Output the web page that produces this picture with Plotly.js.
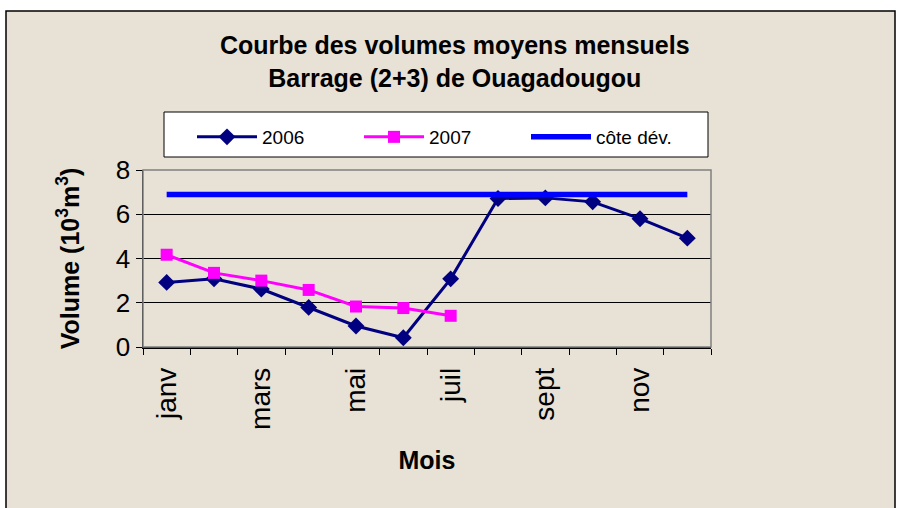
<!DOCTYPE html>
<html><head><meta charset="utf-8">
<script src="https://cdn.plot.ly/plotly-3.0.1.min.js"></script>
<style>html,body{margin:0;padding:0;background:#fff}#c{width:897px;height:508px}</style>
</head><body><div id="c"></div>
<script>
var months = ['janv','févr','mars','avr','mai','juin','juil','août','sept','oct','nov','déc'];
var labelMonths = ['janv','','mars','','mai','','juil','','sept','','nov',''];
var v2006 = [2.92, 3.08, 2.62, 1.79, 0.95, 0.42, 3.08, 6.71, 6.74, 6.56, 5.80, 4.92];
var v2007 = [4.17, 3.35, 3.00, 2.58, 1.83, 1.76, 1.41];
var coteDev = [6.89, 6.89, 6.89, 6.89, 6.89, 6.89, 6.89, 6.89, 6.89, 6.89, 6.89, 6.89];

var F = 'Liberation Sans, Arial, sans-serif';
var L = 143, R = 711, T = 170, B = 347;
function px(x){return (x-L)/(R-L);}
function py(y){return (B-y)/(B-T);}

var traces = [
 {x: months, y: v2006, name:'2006', type:'scatter', mode:'lines+markers',
  line:{color:'#000080', width:3}, marker:{symbol:'diamond', size:13, color:'#000080'}},
 {x: months.slice(0, v2007.length), y: v2007, name:'2007', type:'scatter', mode:'lines+markers',
  line:{color:'#FF00FF', width:3}, marker:{symbol:'square', size:12, color:'#FF00FF'}},
 {x: months, y: coteDev, name:'côte dév.', type:'scatter', mode:'lines',
  line:{color:'#0000FF', width:5.5}}
];

var layout = {
 width:897, height:508,
 margin:{l:L, r:897-R, t:T, b:508-B, pad:0},
 paper_bgcolor:'#ffffff', plot_bgcolor:'#FFFFCC',
 font:{family:F, color:'#000'},
 showlegend:true,
 title:{text:'<b>Courbe des volumes moyens mensuels<br>Barrage (2+3) de Ouagadougou</b>',
   x:0.507, xanchor:'center', yref:'container', y:1-54/508, yanchor:'top',
   font:{family:F, size:25, color:'#000'}},
 legend:{orientation:'h', x:px(192), xanchor:'left', y:py(118), yanchor:'top',
   bgcolor:'rgba(0,0,0,0)', borderwidth:0, font:{family:F, size:19},
   entrywidth:92, entrywidthmode:'pixels', itemwidth:60, traceorder:'normal'},
 xaxis:{type:'category', range:[-0.5,11.5], tickmode:'array', tickvals:months, ticktext:labelMonths,
   tickson:'boundaries', ticks:'outside', ticklen:6, tickcolor:'#000', tickangle:-90,
   ticklabelstandoff:8,
   tickfont:{family:F, size:28}, showline:true, linecolor:'#000', linewidth:1.5, showgrid:false,
   zeroline:false, fixedrange:true,
   title:{text:'<b>Mois</b>', font:{family:F, size:25}, standoff:22}},
 yaxis:{range:[0,8], tickvals:[0,2,4,6,8], ticks:'outside', ticklen:6, tickcolor:'#000',
   tickfont:{family:F, size:26}, showline:true, linecolor:'#000', linewidth:1.5,
   showgrid:true, gridcolor:'#000', gridwidth:1, zeroline:false,
   title:{text:'<b>Volume (10<sup>3</sup>m<sup>3</sup>)</b>', font:{family:F, size:25}, standoff:29}},
 shapes:[
  {type:'rect', xref:'paper', yref:'paper', x0:px(6), x1:px(895), y0:py(11), y1:py(520),
   fillcolor:'#E8E1D5', line:{color:'#000', width:1.5}, layer:'below'},
  {type:'rect', xref:'paper', yref:'paper', x0:px(164), x1:px(708), y0:py(112), y1:py(157),
   fillcolor:'#ffffff', line:{color:'#000', width:1}, layer:'below'},
  {type:'rect', xref:'paper', yref:'paper', x0:0, x1:1, y0:0, y1:1,
   fillcolor:'rgba(0,0,0,0)', line:{color:'#808080', width:1.5}, layer:'above'}
 ]
};
Plotly.newPlot('c', traces, layout, {displayModeBar:false, staticPlot:true});
</script></body></html>
